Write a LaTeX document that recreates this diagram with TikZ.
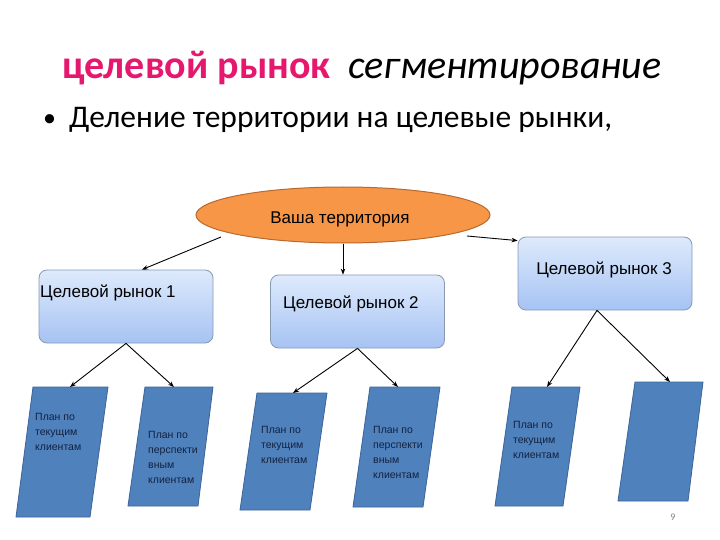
\documentclass[tikz,border=0pt]{standalone}
\usepackage{fontspec}
\setmainfont{Carlito}
\newfontfamily\arialf{Liberation Sans}
\usetikzlibrary{shapes.geometric,arrows.meta}
\definecolor{magt}{HTML}{E5186E}
\definecolor{ellfill}{HTML}{F79646}
\definecolor{elldraw}{HTML}{B8692F}
\definecolor{parafill}{HTML}{4F81BD}
\definecolor{paradraw}{HTML}{3B649A}
\definecolor{boxtop}{HTML}{DEEAFC}
\definecolor{boxbot}{HTML}{A6C3F3}
\definecolor{boxdraw}{HTML}{8799B5}
\definecolor{paratext}{HTML}{14223E}
\tikzset{
  tbox/.style={rectangle, rounded corners=8pt, draw=boxdraw, line width=0.8pt,
    top color=boxtop, bottom color=boxbot, minimum width=174pt, minimum height=73pt},
  para/.style={draw=paradraw, fill=parafill, line width=0.8pt},
  conn/.style={draw=black, line width=0.9pt, -{Stealth[length=6pt,width=4.5pt]}},
  boxtext/.style={inner sep=0pt, font=\arialf\fontsize{17}{20}\selectfont},
  paratxt/.style={inner sep=0pt, anchor=north west, align=left, text=paratext,
    font=\arialf\fontsize{10.5}{15}\selectfont}
}
\begin{document}
\begin{tikzpicture}[x=1pt,y=-1pt]
\useasboundingbox (0,0) rectangle (720,540);
\fill[white] (0,0) rectangle (720,540);

% title
\node[anchor=base west, inner sep=0pt, text=magt, font=\fontsize{40}{46}\selectfont\bfseries] (t1) at (62,79) {целевой рынок};
\node[anchor=base west, inner sep=0pt, font=\fontsize{40}{46}\selectfont\itshape] (t2) at (348,79) {сегментирование};
\node[anchor=base west, inner sep=0pt, font=\fontsize{26}{30}\selectfont] (bul) at (43,127) {•};
\node[anchor=base west, inner sep=0pt, font=\fontsize{31.5}{36}\selectfont] (b1) at (69,128) {Деление территории на целевые рынки,};

% parallelograms
\draw[para] (33,387) -- (108,387) -- (90,517) -- (16,517) -- cycle;
\draw[para] (145,387) -- (213,387) -- (198,506) -- (128,506) -- cycle;
\draw[para] (257,393) -- (327,393) -- (310,510) -- (240,510) -- cycle;
\draw[para] (370,387) -- (440,387) -- (423,507) -- (353,507) -- cycle;
\draw[para] (512,387) -- (580,387) -- (563,506) -- (495,506) -- cycle;
\draw[para] (635,382) -- (703,382) -- (688,501) -- (618,501) -- cycle;
\coordinate (p1) at (70,387);
\coordinate (p2) at (174,387);
\coordinate (p3) at (293,393);
\coordinate (p4) at (398,387);
\coordinate (p5) at (547,387);
\coordinate (p6) at (670,382);

\node[paratxt] (q1) at (35,413) {План по\\текущим\\клиентам};
\node[paratxt] (q2) at (148,431) {План по\\перспекти\\вным\\клиентам};
\node[paratxt] (q3) at (261,426) {План по\\текущим\\клиентам};
\node[paratxt] (q4) at (373,426) {План по\\перспекти\\вным\\клиентам};
\node[paratxt] (q5) at (513,421) {План по\\текущим\\клиентам};

% ellipse
\coordinate (e1) at (221,237);
\coordinate (e3) at (467,236);
\node[ellipse, draw=elldraw, fill=ellfill, line width=1pt, minimum width=294pt, minimum height=56pt,
  inner sep=0pt] (ell) at (343,215) {};
\node[boxtext, anchor=base] (ellt) at (340,223) {Ваша территория};

% target boxes
\node[tbox] (box1) at (126,306.5) {};
\node[tbox] (box2) at (357.5,311.5) {};
\node[tbox] (box3) at (605,273.5) {};
\node[boxtext, anchor=base west] (bt1) at (40,297) {Целевой рынок 1};
\node[boxtext, anchor=base west] (bt2) at (283,308) {Целевой рынок 2};
\node[boxtext, anchor=base] (bt3) at (604,274) {Целевой рынок 3};

% connectors
\draw[conn] (e1) -- ([xshift=16pt]box1.north);
\draw[conn] (ell.south) -- (ell.south |- box2.north);
\draw[conn] (e3) -- ([yshift=-4pt]box3.north west);
\draw[conn] (box1.south) -- (p1);
\draw[conn] (box1.south) -- (p2);
\draw[conn] (box2.south) -- (p3);
\draw[conn] (box2.south) -- (p4);
\draw[conn] ([xshift=-8pt]box3.south) -- (p5);
\draw[conn] ([xshift=-8pt]box3.south) -- (p6);

% page number
\node[anchor=base, inner sep=0pt, text=gray, font=\fontsize{10}{12}\selectfont] (pg) at (673,520) {9};
\end{tikzpicture}
\end{document}
